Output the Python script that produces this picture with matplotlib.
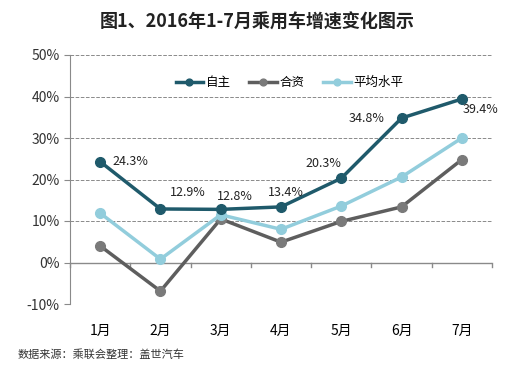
import matplotlib.pyplot as plt
from matplotlib.ticker import FuncFormatter

plt.rcParams['font.family'] = ['Noto Sans CJK SC', 'DejaVu Sans']

# 数据
meses = ['1月', '2月', '3月', '4月', '5月', '6月', '7月']
zizhu = [24.3, 12.9, 12.8, 13.4, 20.3, 34.8, 39.4]
hezi = [4.0, -6.9, 10.5, 4.9, 9.9, 13.4, 24.8]
pingjun = [11.9, 0.8, 11.5, 8.0, 13.6, 20.6, 30.0]
rotulos = ['24.3%', '12.9%', '12.8%', '13.4%', '20.3%', '34.8%', '39.4%']

fig = plt.figure(figsize=(5.14, 3.67), dpi=100)
ax = fig.add_axes([70/514, 63/367, 422/514, 249/367])

x = range(len(meses))
ax.plot(x, zizhu, marker='o', ms=7, lw=2.5, color='#1f5a6b', label='自主', zorder=5)
ax.plot(x, hezi, marker='o', ms=7, lw=2.5, color='#5e5e5e', mfc='#7a7a7a', mec='#7a7a7a', label='合资', zorder=3)
ax.plot(x, pingjun, marker='o', ms=7, lw=2.5, color='#92cddc', label='平均水平', zorder=4)

# 数据标签 (偏移以像素计)
offs = [(30, 0), (27, 16), (14, 13), (5, 14), (-18, 15), (-35, 0), (19, -11)]
for i, v in enumerate(zizhu):
    ax.annotate(rotulos[i], (i, v), xytext=offs[i], textcoords='offset pixels',
                ha='center', va='center', fontsize=9, color='#222222', zorder=6)

ax.set_xlim(-0.5, 6.5)
ax.set_ylim(-10, 50)
ax.set_yticks(range(-10, 51, 10))
ax.yaxis.set_major_formatter(FuncFormatter(lambda v, p: f'{v:.0f}%'))
ax.grid(axis='y', ls='--', lw=0.7, color='#8a8a8a')
ax.set_axisbelow(True)

for s in ['top', 'right', 'bottom']:
    ax.spines[s].set_visible(False)
ax.spines['left'].set_color('#8a8a8a')
ax.axhline(0, color='#8a8a8a', lw=1, zorder=1)
for b in [i + 0.5 for i in range(-1, 7)]:
    ax.plot([b, b], [0, -1.2], color='#8a8a8a', lw=1, clip_on=False, zorder=1)

ax.set_xticks(list(x))
ax.set_xticklabels(meses, fontsize=10)
ax.tick_params(axis='x', length=0, pad=14)
ax.tick_params(axis='y', length=4, color='#8a8a8a', labelsize=10, labelcolor='#333333')

ax.legend(loc='upper center', bbox_to_anchor=(0.52, 0.96), ncol=3, frameon=False,
          fontsize=9, handlelength=2.2, columnspacing=1.5, handletextpad=0.2, markerscale=0.7)

fig.text(0.5, 0.94, '图1、2016年1-7月乘用车增速变化图示', ha='center', va='center',
         fontsize=13, fontweight='bold', color='#222222')
fig.text(0.035, 0.035, '数据来源：乘联会整理：盖世汽车', ha='left', va='center',
         fontsize=8, style='italic', color='#333333')

fig.savefig('out.png', dpi=100)
